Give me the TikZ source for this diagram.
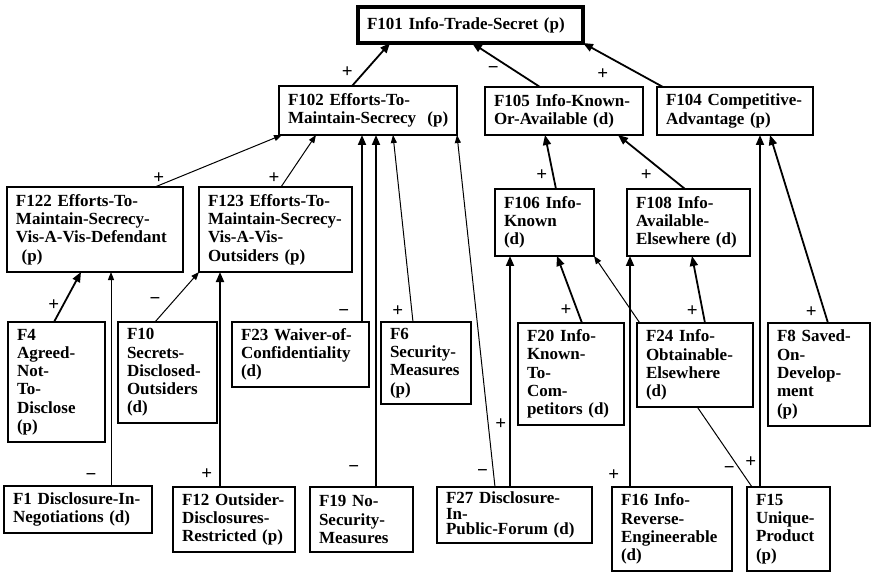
\documentclass[tikz,border=0pt]{standalone}
\usepackage{fontspec}
\setmainfont{Liberation Serif}
\usetikzlibrary{arrows.meta, backgrounds}

\newcommand{\factorfont}{\bfseries\fontsize{17}{18.3}\selectfont\hyphenpenalty=10000\exhyphenpenalty=10000}

\begin{document}
\begin{tikzpicture}[
    x=1pt, y=-1pt,
    factor/.style = {rectangle, draw, fill=white, anchor=north west, align=left, inner xsep=9pt, inner ysep=2pt, outer sep=0pt, font=\factorfont},
    fsize/.style 2 args = {minimum width=#1, text width=#1-18pt, minimum height=#2},
    topf/.style = {factor, line width=3.5pt},
    midf/.style = {factor, line width=2.2pt},
    basef/.style = {factor, line width=1.2pt},
    line/.style = {draw, line width=1.8pt, -{Triangle[length=10pt, width=8pt]}},
    thin/.style = {draw, line width=1pt, -{Triangle[length=8pt, width=6pt]}},
    sign/.style = {font=\bfseries\fontsize{19}{19}\selectfont, inner sep=0pt}
]
    \useasboundingbox (0,0) rectangle (873,572);

    % Nodes - top and abstract factors
    \node (f101) [topf, fsize={225pt}{36pt}] at (358,7) {F101 Info-Trade-Secret (p)};
    \node (f102) [midf, fsize={178pt}{49pt}] at (279,86) {F102 Efforts-To-\\Maintain-Secrecy~~(p)};
    \node (f105) [midf, fsize={158pt}{48pt}] at (485,87) {F105 Info-Known-\\Or-Available (d)};
    \node (f104) [midf, fsize={156pt}{48pt}] at (657,87) {F104 Competitive-\\Advantage (p)};
    \node (f122) [midf, fsize={176pt}{85pt}] at (7,187) {F122 Efforts-To-\\Maintain-Secrecy-\\Vis-A-Vis-Defendant\\~(p)};
    \node (f123) [midf, fsize={153pt}{85pt}] at (199,187) {F123 Efforts-To-\\Maintain-Secrecy-\\Vis-A-Vis-\\Outsiders (p)};
    \node (f106) [midf, fsize={99pt}{67pt}] at (495,189) {F106 Info-\\Known\\(d)};
    \node (f108) [midf, fsize={123pt}{67pt}] at (627,189) {F108 Info-\\Available-\\Elsewhere (d)};

    % Nodes - base factors
    \node (f4) [basef, fsize={97pt}{120pt}] at (8,322) {F4\\Agreed-\\Not-\\To-\\Disclose\\(p)};
    \node (f10) [basef, fsize={99pt}{101pt}] at (118,322) {F10\\Secrets-\\Disclosed-\\Outsiders\\(d)};
    \node (f23) [basef, fsize={137pt}{65pt}] at (232,322) {F23 Waiver-of-\\Confidentiality\\(d)};
    \node (f6) [basef, fsize={90pt}{82pt}] at (381,322) {F6\\Security-\\Measures\\(p)};
    \node (f20) [basef, fsize={106pt}{102pt}] at (518,323) {F20 Info-\\Known-\\To-\\Com-\\petitors (d)};
    \node (f24) [basef, fsize={116pt}{84pt}] at (637,323) {F24 Info-\\Obtainable-\\Elsewhere\\(d)};
    \node (f8) [basef, fsize={102pt}{103pt}] at (768,323) {F8 Saved-\\On-\\Develop-\\ment\\(p)};
    \node (f1) [basef, fsize={148pt}{47pt}] at (4,486) {F1 Disclosure-In-\\Negotiations (d)};
    \node (f12) [basef, fsize={122pt}{65pt}] at (173,487) {F12 Outsider-\\Disclosures-\\Restricted (p)};
    \node (f19) [basef, fsize={103pt}{65pt}] at (310,487) {F19 No-\\Security-\\Measures};
    \node (f27) [basef, fsize={155pt}{56pt}] at (437,487) {F27 Disclosure-\\[-3pt]In-\\[-3pt]Public-Forum (d)};
    \node (f16) [basef, fsize={120pt}{84pt}] at (612,487) {F16 Info-\\Reverse-\\Engineerable\\(d)};
    \node (f15) [basef, fsize={83pt}{84pt}] at (747,487) {F15\\Unique-\\Product\\(p)};

    \begin{scope}[on background layer]
    % Edges - to F101
    \path [line] ([xshift=73pt]f102.north west) -- node [pos=.33, left=11pt, sign] {+} ([xshift=32pt]f101.south west);
    \path [line] ([xshift=55pt]f105.north west) -- node [pos=.39, left=14pt, sign] {−} ([xshift=114pt]f101.south west);
    \path [line] ([xshift=6pt]f104.north west) -- node [pos=.3, left=30pt, sign] {+} (f101.south east);

    % Edges - to F102
    \path [thin] ([xshift=148pt]f122.north west) -- node [pos=.17, left=12pt, sign] {+} ([xshift=3pt]f102.south west);
    \path [thin] ([xshift=82pt]f123.north west) -- node [pos=.17, left=7pt, sign] {+} ([xshift=37pt]f102.south west);
    \path [line] ([xshift=130pt]f23.north west) -- node [pos=.05, left=12pt, sign] {−} ([xshift=83pt]f102.south west);
    \path [line] ([xshift=66pt]f19.north west) -- node [pos=.05, left=16pt, sign] {−} ([xshift=97pt]f102.south west);
    \path [thin] ([xshift=32pt]f6.north west) -- node [pos=.06, left=8pt, sign] {+} ([xshift=114pt]f102.south west);
    \path [thin] ([xshift=58pt]f27.north west) -- node [pos=.04, left=5pt, sign] {−} (f102.south east);

    % Edges - to F122 and F123
    \path [line] ([xshift=46pt]f4.north west) -- node [pos=.34, left=3pt, sign] {+} ([xshift=74pt]f122.south west);
    \path [thin] ([xshift=107pt]f1.north west) -- node [pos=.04, left=14pt, sign] {−} ([xshift=104pt]f122.south west);
    \path [thin] ([xshift=37pt]f10.north west) -- node [pos=.41, left=12pt, sign] {−} (f123.south west);
    \path [line] ([xshift=47pt]f12.north west) -- node [pos=.06, left=7pt, sign] {+} ([xshift=21pt]f123.south west);

    % Edges - to F105 and F104
    \path [line] ([xshift=61pt]f106.north west) -- node [pos=.26, left=5pt, sign] {+} ([xshift=60pt]f105.south west);
    \path [line] ([xshift=58pt]f108.north west) -- node [pos=.26, left=15pt, sign] {+} ([xshift=133pt]f105.south west);
    \path [line] ([xshift=60pt]f8.north west) -- node [pos=.06, left=7pt, sign] {+} ([xshift=113pt]f104.south west);
    \path [line] ([xshift=13pt]f15.north west) -- node [pos=.07, left=3pt, sign] {+} ([xshift=103pt]f104.south west);

    % Edges - to F106 and F108
    \path [line] ([xshift=73pt]f27.north west) -- node [pos=.27, left=3pt, sign] {+} ([xshift=15pt]f106.south west);
    \path [line] ([xshift=64pt]f20.north west) -- node [pos=.19, left=5pt, sign] {+} ([xshift=62pt]f106.south west);
    \path [thin] ([xshift=5pt]f15.north west) -- node [pos=.074, left=5pt, sign] {−} (f106.south east);
    \path [line] ([xshift=18pt]f16.north west) -- node [pos=.05, left=10pt, sign] {+} ([xshift=3pt]f108.south west);
    \path [line] ([xshift=68pt]f24.north west) -- node [pos=.18, left=4pt, sign] {+} ([xshift=65pt]f108.south west);
    \end{scope}

\end{tikzpicture}
\end{document}
